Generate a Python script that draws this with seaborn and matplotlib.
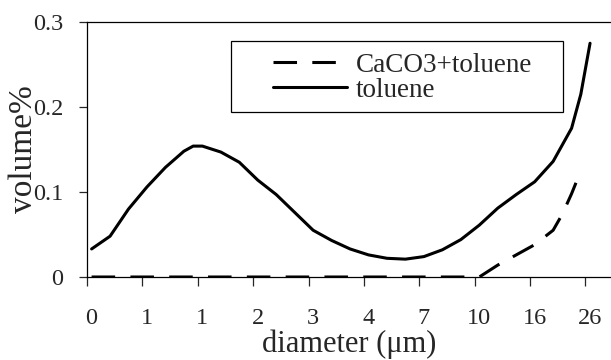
import matplotlib.pyplot as plt
import matplotlib.patches as mpatches
import pandas as pd
import seaborn as sns

# category index along the diameter axis (one category per size class)
idx_toluene = [0, 2, 4, 6, 8, 10, 11, 12, 14, 16, 18, 20, 22, 24, 26, 28, 30,
               32, 34, 36, 38, 40, 42, 44, 46, 48, 50, 52, 53, 54]
vol_toluene = [0.033, 0.048, 0.080, 0.106, 0.129, 0.148, 0.154, 0.154, 0.147,
               0.135, 0.114, 0.097, 0.076, 0.055, 0.043, 0.033, 0.026, 0.022,
               0.021, 0.024, 0.032, 0.044, 0.061, 0.081, 0.097, 0.112, 0.136,
               0.175, 0.215, 0.275]
idx_caco3 = [0, 6, 12, 18, 24, 30, 36, 42, 44, 46, 48, 50, 51, 52, 53]
vol_caco3 = [0, 0, 0, 0, 0, 0, 0, 0, 0.014, 0.026, 0.038, 0.055, 0.074, 0.098, 0.125]

tick_labels = ['0', '1', '1', '2', '3', '4', '7', '10', '16', '26']
label_pos = [0, 6, 12, 18, 24, 30, 36, 42, 48, 54]
yticks = [0, 0.1, 0.2, 0.3]

df = pd.concat([
    pd.DataFrame({'idx': idx_caco3, 'vol': vol_caco3, 'sample': 'CaCO3+toluene'}),
    pd.DataFrame({'idx': idx_toluene, 'vol': vol_toluene, 'sample': 'toluene'}),
])

sns.set_style('ticks')
plt.rcParams['font.family'] = ['Liberation Serif', 'DejaVu Serif']

fig = plt.figure(figsize=(6.11, 3.6), dpi=100)
ax = fig.add_axes([87/611, 1-277/360, 524/611, 255/360])

sns.lineplot(data=df, x='idx', y='vol', style='sample', color='black',
             dashes={'CaCO3+toluene': (7.7, 5), 'toluene': ''},
             linewidth=2.2, ax=ax, legend=True, estimator=None)

ax.set_xlim(-0.5, 56.27)
ax.set_ylim(0, 0.3)

# ticks between categories, labels on categories
ax.set_xticks([p - 0.5 for p in label_pos])
ax.set_xticklabels([])
ax.set_xticks(label_pos, minor=True)
ax.set_xticklabels(tick_labels, minor=True)
ax.tick_params(axis='x', which='major', direction='out', length=6.5, width=0.9)
ax.tick_params(axis='x', which='minor', length=0, pad=22, labelsize=17.5)
ax.set_yticks(yticks)
ax.set_yticklabels(['0', '0.1', '0.2', '0.3'])
ax.tick_params(axis='y', direction='out', length=6, width=0.9, pad=11, labelsize=17.5)

for s in ['left', 'top', 'bottom']:
    ax.spines[s].set_linewidth(0.9)
    ax.spines[s].set_color('black')
ax.spines['right'].set_visible(False)

ax.set_xlabel('diameter (\u03bcm)', fontsize=22, va='center')
ax.xaxis.set_label_coords(0.5, -0.262)
ax.set_ylabel('volume%', fontsize=24, va='center')
ax.yaxis.set_label_coords(-0.12, 0.5)

# legend box
ax.add_patch(mpatches.Rectangle((0.275, 0.647), 0.633, 0.278, transform=ax.transAxes,
                                facecolor='white', edgecolor='black', linewidth=0.9, zorder=4))
leg = ax.legend(loc='center left', bbox_to_anchor=(0.355, 0.782), frameon=False,
                fontsize=19.5, handlelength=2.75, handletextpad=0.3,
                labelspacing=0.0, borderpad=0, borderaxespad=0)
leg.set_zorder(5)

fig.savefig('out.png', dpi=100)
